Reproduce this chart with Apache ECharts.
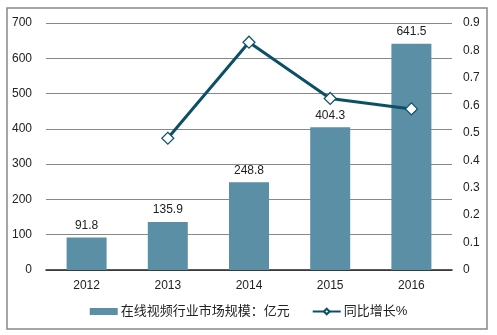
<!DOCTYPE html>
<html><head><meta charset="utf-8">
<script src="https://cdn.jsdelivr.net/npm/echarts@6/dist/echarts.min.js"></script>
<style>html,body{margin:0;padding:0;background:#fff}#c{width:497px;height:335px}</style>
</head><body><div id="c"></div>
<script>
var categories = ['2012','2013','2014','2015','2016'];
var marketSize = [91.8, 135.9, 248.8, 404.3, 641.5];
var growth = [null, 0.48, 0.83, 0.625, 0.587];
var leftTicks = [0,100,200,300,400,500,600,700];
var rightTicks = [0,0.1,0.2,0.3,0.4,0.5,0.6,0.7,0.8,0.9];
var seriesNames = ['在线视频行业市场规模：亿元','同比增长%'];

var font = 'Liberation Sans, Arial, "Noto Sans CJK SC", sans-serif';
var chart = echarts.init(document.getElementById('c'), null, {renderer:'canvas'});
chart.setOption({
  animation:false,
  textStyle:{fontFamily:font},
  graphic:[{type:'rect',shape:{x:7,y:8,width:480,height:321},style:{fill:'none',stroke:'#888',lineWidth:1.5},silent:true}],
  legend:{
    bottom:12, left:'center', itemGap:22, itemWidth:28, itemHeight:7,
    textStyle:{fontSize:13,color:'#222',fontFamily:font,padding:[0,0,0,-2]},
    data:[{name:seriesNames[0],icon:'rect'},{name:seriesNames[1]}]
  },
  grid:{left:46,right:45,top:23,bottom:65},
  xAxis:{type:'category',data:categories,
    axisLine:{lineStyle:{color:'#222',width:1.5}},axisTick:{show:false},
    axisLabel:{color:'#222',fontSize:12,margin:10}},
  yAxis:[
    {type:'value',min:leftTicks[0],max:leftTicks[leftTicks.length-1],interval:100,
     axisLine:{show:false},axisTick:{show:false},
     axisLabel:{color:'#222',fontSize:12,margin:14},
     splitLine:{lineStyle:{color:'#888',width:1}}},
    {type:'value',min:rightTicks[0],max:rightTicks[rightTicks.length-1],interval:0.1,
     axisLine:{show:false},axisTick:{show:false},
     axisLabel:{color:'#222',fontSize:12,margin:11,formatter:function(v){return String(Math.round(v*10)/10);}},
     splitLine:{show:false}}
  ],
  series:[
    {name:seriesNames[0],type:'bar',data:marketSize,barWidth:40,
     itemStyle:{color:'#5b8fa6'},
     label:{show:true,position:'top',color:'#222',fontSize:12,distance:6,formatter:function(p){return p.value.toFixed(1);}}},
    {name:seriesNames[1],type:'line',yAxisIndex:1,data:growth,
     symbol:'diamond',symbolSize:12,showAllSymbol:true,
     lineStyle:{color:'#0c5068',width:3},
     itemStyle:{color:'#fff',borderColor:'#0c5068',borderWidth:1.2}}
  ]
});
</script></body></html>
